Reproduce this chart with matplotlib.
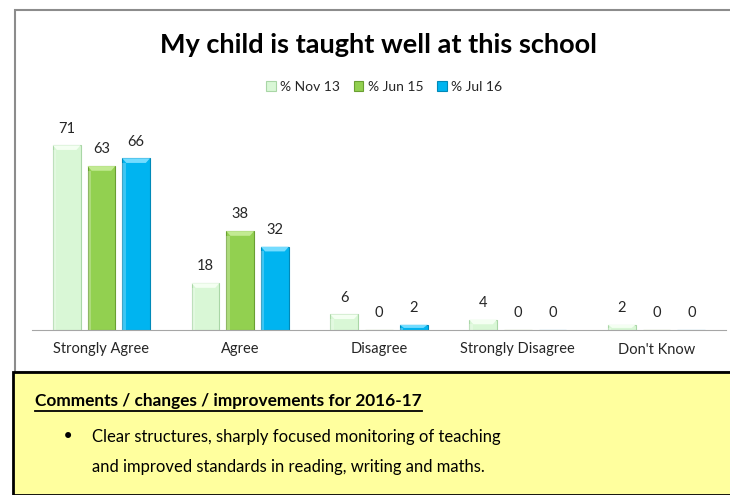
import matplotlib.pyplot as plt
from matplotlib.patches import Rectangle, Polygon
import numpy as np

categories = ['Strongly Agree', 'Agree', 'Disagree', 'Strongly Disagree', "Don't Know"]
series_names = ['% Nov 13', '% Jun 15', '% Jul 16']
nov13 = [71, 18, 6, 4, 2]
jun15 = [63, 38, 0, 0, 0]
jul16 = [66, 32, 2, 0, 0]

title = 'My child is taught well at this school'
heading = 'Comments / changes / improvements for 2016-17'
bullet_lines = ['Clear structures, sharply focused monitoring of teaching',
                'and improved standards in reading, writing and maths.']

plt.rcParams['font.family'] = ['Lato', 'DejaVu Sans']

W, H = 730, 495
fig = plt.figure(figsize=(W / 100, H / 100), dpi=100)

def fx(px):
    return px / W

def fy(py):
    return 1 - py / H

# chart frame (gray border), behind the axes
fig.patches.append(Rectangle((fx(15), fy(372)), fx(740), fy(10) - fy(372),
                             transform=fig.transFigure, facecolor='white',
                             edgecolor='#8c8c8c', linewidth=1.5, zorder=-1))

ax = fig.add_axes([fx(32), fy(330), fx(726) - fx(32), fy(120) - fy(330)])
ax.set_facecolor('none')

fills = ['#d9f7d6', '#92d050', '#00b4f0']
edges = ['#a9d6a6', '#6a9f32', '#0089b8']
caps = ['#f4fff2', '#c2ea92', '#74dcff']
width = 0.2
step = 0.25
x = np.arange(len(categories))
ymax = 80.7
cap_h = 1.8

for i, (vals, name) in enumerate(zip([nov13, jun15, jul16], series_names)):
    pos = x + (i - 1) * step
    bars = ax.bar(pos, vals, width, color=fills[i], edgecolor=edges[i],
                  linewidth=0.8, label=name, zorder=2)
    for b, v in zip(bars, vals):
        if v > 0:
            x0 = b.get_x()
            w = b.get_width()
            h = min(cap_h, v * 0.6)
            ax.add_patch(Polygon([(x0, v), (x0 + w, v), (x0 + w * 0.85, v - h),
                                  (x0 + w * 0.15, v - h)], closed=True,
                                 facecolor=caps[i], edgecolor='none', zorder=3))
            ax.add_patch(Rectangle((x0, 0), w * 0.12, v - h, facecolor='white',
                                   alpha=0.25, edgecolor='none', zorder=3))
        ax.annotate(str(v), (b.get_x() + b.get_width() / 2, v), xytext=(0, 12),
                    textcoords='offset points', ha='center', va='center',
                    fontsize=10.5, color='#262626')

ax.set_xlim(-0.5, len(categories) - 0.5)
ax.set_ylim(0, ymax)
ax.set_yticks([])
ax.set_xticks(x)
ax.set_xticklabels(categories, fontsize=10.5, color='#262626')
ax.tick_params(axis='x', length=0, pad=9)
for s in ['top', 'left', 'right']:
    ax.spines[s].set_visible(False)
ax.spines['bottom'].set_color('#a6a6a6')

fig.text(fx(379), fy(45), title, ha='center', va='center', fontsize=19.5,
         fontweight='bold', color='black')

leg = ax.legend(loc='center', bbox_to_anchor=(fx(384), fy(87)),
                bbox_transform=fig.transFigure, ncol=3, frameon=False,
                fontsize=10, handlelength=0.7, handleheight=0.7,
                handletextpad=0.3, columnspacing=1.0)
for t in leg.get_texts():
    t.set_color('#262626')

# yellow comments box
fig.patches.append(Rectangle((fx(13), 0), 1, fy(372), transform=fig.transFigure,
                             facecolor='#ffff9e', edgecolor='black', linewidth=2,
                             zorder=1))

hd = fig.text(fx(35), fy(401), heading, ha='left', va='center', fontsize=12.4,
              fontweight='bold', color='black')
fig.text(fx(68), fy(437), '\u2022', ha='center', va='center', fontsize=15,
         color='black', family='DejaVu Sans')
for k, line in enumerate(bullet_lines):
    fig.text(fx(92), fy(437 + 30 * k), line, ha='left', va='center',
             fontsize=12, color='black')

# underline the heading
fig.canvas.draw()
bb = hd.get_window_extent()
fig.add_artist(plt.Line2D([bb.x0 / W, bb.x1 / W], [fy(411), fy(411)],
                          transform=fig.transFigure, color='black', linewidth=1.3))

fig.savefig('out.png', dpi=100)
